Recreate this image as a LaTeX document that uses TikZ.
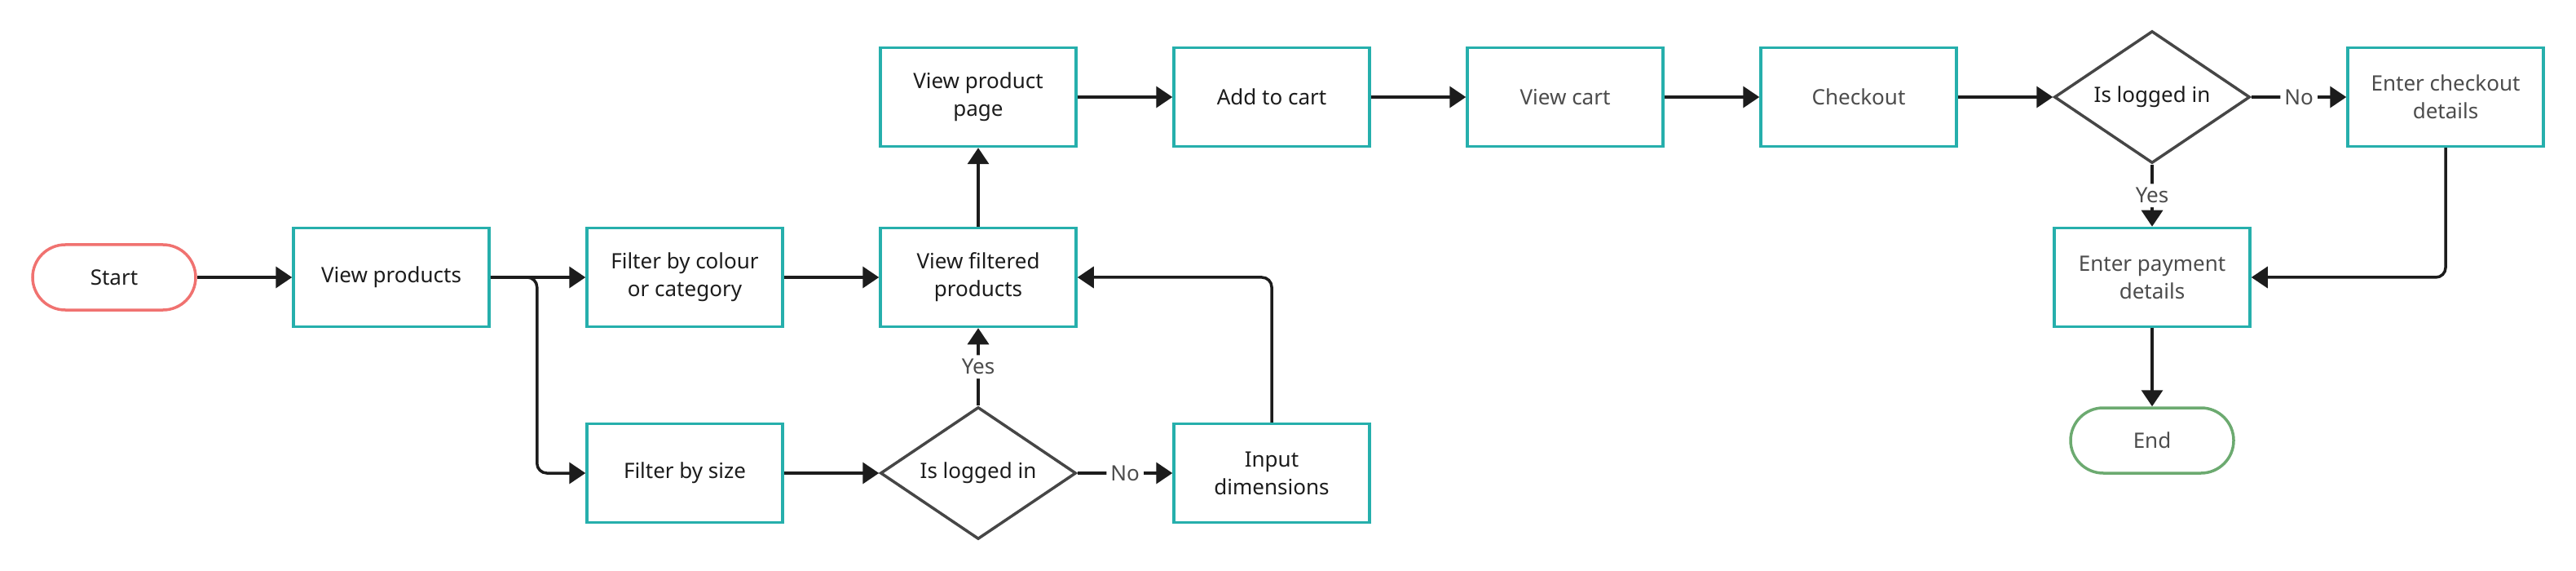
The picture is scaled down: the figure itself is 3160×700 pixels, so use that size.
\documentclass[tikz,border=0pt]{standalone}
\usepackage{fontspec}
\setmainfont{Noto Sans}
\usetikzlibrary{arrows.meta,shapes.geometric,positioning}
\definecolor{teal1}{RGB}{38,175,172}
\definecolor{salmon1}{RGB}{240,114,112}
\definecolor{green1}{RGB}{108,170,112}
\definecolor{dgray}{RGB}{70,70,70}
\definecolor{ink}{RGB}{28,28,28}
\definecolor{txtgray}{RGB}{76,76,76}
\tikzset{
  base/.style={font=\fontsize{26}{34}\selectfont, text=ink, align=center, inner sep=0pt},
  box/.style={base, draw=teal1, line width=3.5pt, fill=white, rectangle, minimum width=240pt, minimum height=121pt},
  term/.style={base, line width=3.5pt, rectangle, rounded corners=40pt, minimum width=200pt, minimum height=80pt},
  dec/.style={base, draw=dgray, line width=3.5pt, diamond, aspect=1.48, minimum width=240pt, minimum height=162pt},
  conn/.style={draw=ink, line width=3.5pt, -{Triangle[length=20pt,width=26pt]}, rounded corners=12pt},
  lbl/.style={font=\fontsize{26}{34}\selectfont, text=txtgray, fill=white, inner sep=5pt}
}
\begin{document}
\begin{tikzpicture}[x=1pt,y=-1pt]
\useasboundingbox (0,0) rectangle (3160,700);
\node[term, draw=salmon1] (start) at (140,340) {Start};
\node[box] (vp) at (480,340) {View products};
\node[box] (fc) at (840,340) {Filter by colour\\or category};
\node[box] (fs) at (840,580) {Filter by size};
\node[box] (vf) at (1200,340) {View filtered\\products};
\node[box] (vpp) at (1200,119) {View product\\page};
\node[dec] (d1) at (1200,580) {Is logged in};
\node[box] (inp) at (1560,580) {Input\\dimensions};
\node[box] (add) at (1560,119) {Add to cart};
\node[box, text=txtgray] (vc) at (1920,119) {View cart};
\node[box, text=txtgray] (co) at (2280,119) {Checkout};
\node[dec] (d2) at (2640,119) {Is logged in};
\node[box, text=txtgray] (ecd) at (3000,119) {Enter checkout\\details};
\node[box, text=txtgray] (epd) at (2640,340) {Enter payment\\details};
\node[term, draw=green1, text=txtgray] (end) at (2640,540) {End};

\draw[conn] (start) -- (vp);
\draw[conn] (vp) -- (fc);
\draw[conn] (vp.east) -- ++(57,0) |- (fs.west);
\draw[conn] (fc) -- (vf);
\draw[conn] (fs) -- (d1);
\draw[conn] (d1.north) -- node[lbl] {Yes} (vf.south);
\draw[conn] (d1.east) -- node[lbl] {No} (inp.west);
\draw[conn] (inp.north) |- (vf.east);
\draw[conn] (vf) -- (vpp);
\draw[conn] (vpp) -- (add);
\draw[conn] (add) -- (vc);
\draw[conn] (vc) -- (co);
\draw[conn] (co) -- (d2.west);
\draw[conn] (d2.east) -- node[lbl] {No} (ecd.west);
\draw[conn] (d2.south) -- node[lbl] {Yes} (epd.north);
\draw[conn] (ecd.south) |- (epd.east);
\draw[conn] (epd) -- (end);
\end{tikzpicture}
\end{document}
